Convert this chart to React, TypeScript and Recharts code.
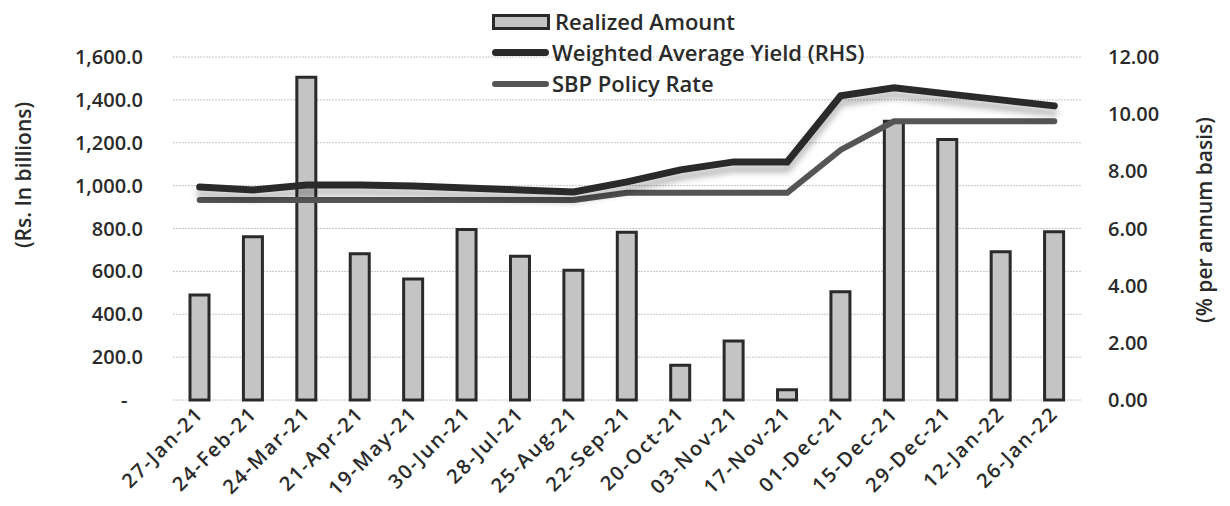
import React from "react";
import {
  ComposedChart,
  Bar,
  Line,
  XAxis,
  YAxis,
  CartesianGrid,
} from "recharts";

const dates = [
  "27-Jan-21", "24-Feb-21", "24-Mar-21", "21-Apr-21", "19-May-21", "30-Jun-21",
  "28-Jul-21", "25-Aug-21", "22-Sep-21", "20-Oct-21", "03-Nov-21", "17-Nov-21",
  "01-Dec-21", "15-Dec-21", "29-Dec-21", "12-Jan-22", "26-Jan-22",
];
const realized = [
  490, 762, 1505, 682, 565, 795, 670, 605, 782, 162, 275, 48,
  505, 1300, 1215, 692, 785,
];
const yieldRate = [
  7.45, 7.35, 7.52, 7.52, 7.49, 7.42, 7.35, 7.28, 7.63, 8.05, 8.33, 8.33,
  10.64, 10.92, 10.71, 10.5, 10.29,
];
const policyRate = [
  7.0, 7.0, 7.0, 7.0, 7.0, 7.0, 7.0, 7.0, 7.25, 7.25, 7.25, 7.25,
  8.75, 9.75, 9.75, 9.75, 9.75,
];
const leftTicks = [0, 200, 400, 600, 800, 1000, 1200, 1400, 1600];
const rightTicks = [0, 2, 4, 6, 8, 10, 12];

const data = dates.map((d, i) => ({
  date: d,
  realized: realized[i],
  yield: yieldRate[i],
  policy: policyRate[i],
}));

const FONT = "'Open Sans', 'Noto Sans', sans-serif";
const INK = "#2a2a2a";

const fmtLeft = (v: number) =>
  v === 0
    ? "-\u00a0\u00a0\u00a0"
    : v.toLocaleString("en-US", { minimumFractionDigits: 1, maximumFractionDigits: 1 });

const DateTick = (props: any) => {
  const { x, y, payload } = props;
  return (
    <text
      transform={`translate(${x + 5},${y + 7}) rotate(-45)`}
      textAnchor="end"
      fontFamily={FONT}
      fontWeight={600}
      fontSize={20}
      letterSpacing={1.8}
      fill={INK}
    >
      {payload.value}
    </text>
  );
};

// legend drawn as an overlay so it takes no room from the plot
const LegendBox = () => (
  <div
    style={{
      position: "absolute",
      left: 492,
      top: 6,
      fontFamily: FONT,
      fontWeight: 600,
      fontSize: 22,
      color: INK,
      lineHeight: "31px",
      whiteSpace: "nowrap",
    }}
  >
    <div style={{ display: "flex", alignItems: "center" }}>
      <span style={{ display: "inline-block", width: 52, height: 10, background: "#c4c4c4", border: `3px solid ${INK}`, marginRight: 5 }} />
      Realized Amount
    </div>
    <div style={{ display: "flex", alignItems: "center" }}>
      <span style={{ display: "inline-block", width: 57, height: 7, borderRadius: 4, background: INK, marginRight: 3 }} />
      Weighted Average Yield (RHS)
    </div>
    <div style={{ display: "flex", alignItems: "center" }}>
      <span style={{ display: "inline-block", width: 57, height: 6, borderRadius: 3, background: "#555", marginRight: 3 }} />
      SBP Policy Rate
    </div>
  </div>
);

export default function App() {
  return (
    <div style={{ position: "absolute", left: 0, top: 0, width: 1230, height: 506, background: "#fff" }}>
      <style>{`body{margin:0} .yield-line path{filter:drop-shadow(0px 7px 3px rgba(0,0,0,0.28));}`}</style>
      <ComposedChart
        width={1230}
        height={506}
        data={data}
        margin={{ top: 57, right: 0, left: 0, bottom: 6 }}
        barSize={19}
      >
        <CartesianGrid
          vertical={false}
          stroke="#c6c6c6"
          strokeDasharray="2 1"
          yAxisId="left"
        />
        <XAxis
          dataKey="date"
          interval={0}
          axisLine={false}
          tickLine={false}
          height={100}
          tick={<DateTick />}
        />
        <YAxis
          yAxisId="left"
          width={173}
          domain={[0, 1600]}
          ticks={leftTicks}
          tickFormatter={fmtLeft}
          axisLine={false}
          tickLine={false}
          tickSize={0}
          tickMargin={30}
          tick={{ fontFamily: FONT, fontWeight: 600, fontSize: 20, fill: INK }}
          label={{
            content: () => (
              <text
                transform="translate(31,175) rotate(-90)"
                textAnchor="middle"
                fontFamily={FONT}
                fontWeight={600}
                fontSize={21}
                fill={INK}
              >
                (Rs. In billions)
              </text>
            ),
          }}
        />
        <YAxis
          yAxisId="right"
          orientation="right"
          width={149}
          domain={[0, 12]}
          ticks={rightTicks}
          tickFormatter={(v: number) => v.toFixed(2)}
          axisLine={false}
          tickLine={false}
          tickSize={0}
          tickMargin={27}
          tick={{ fontFamily: FONT, fontWeight: 600, fontSize: 20, fill: INK, textAnchor: "start" }}
          label={{
            content: () => (
              <text
                transform="translate(1212,220) rotate(-90)"
                textAnchor="middle"
                fontFamily={FONT}
                fontWeight={600}
                fontSize={21}
                fill={INK}
              >
                (% per annum basis)
              </text>
            ),
          }}
        />
        <Bar
          yAxisId="left"
          dataKey="realized"
          name="Realized Amount"
          fill="#c4c4c4"
          stroke={INK}
          strokeWidth={3}
          isAnimationActive={false}
        />
        <Line
          yAxisId="right"
          dataKey="policy"
          name="SBP Policy Rate"
          stroke="#555"
          strokeWidth={6}
          strokeLinecap="round"
          dot={false}
          isAnimationActive={false}
        />
        <Line
          yAxisId="right"
          dataKey="yield"
          name="Weighted Average Yield (RHS)"
          className="yield-line"
          stroke={INK}
          strokeWidth={7}
          strokeLinecap="round"
          dot={false}
          isAnimationActive={false}
        />
      </ComposedChart>
      <LegendBox />
    </div>
  );
}
